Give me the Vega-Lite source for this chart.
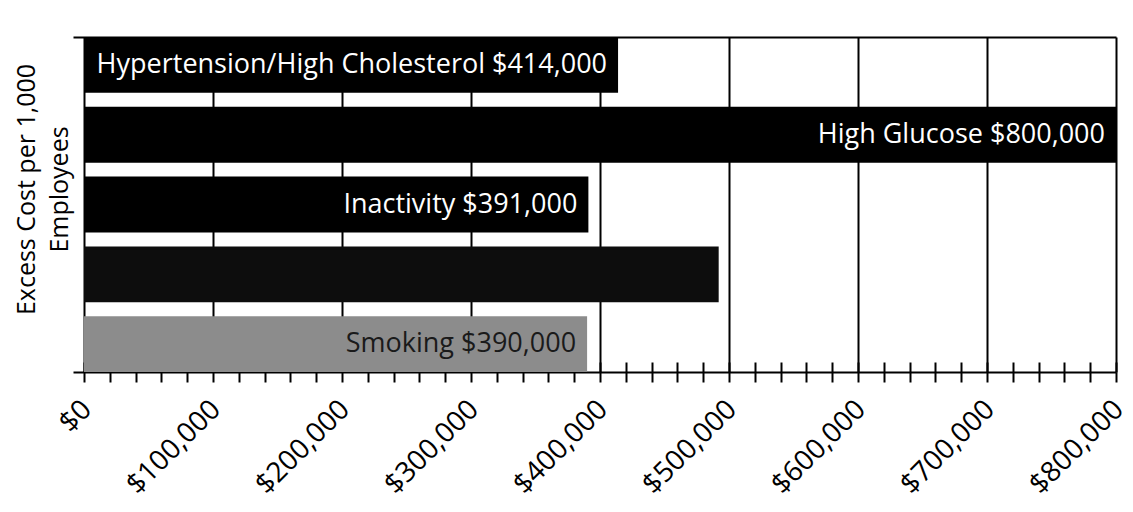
{
  "$schema": "https://vega.github.io/schema/vega-lite/v6.json",
  "width": 1043,
  "height": 335,
  "autosize": {"type": "none"},
  "padding": {"left": 73, "top": 37, "right": 17, "bottom": 140},
  "background": "white",
  "config": {"view": {"stroke": null}, "font": "Open Sans"},
  "data": {
    "values": [
      {"risk": "Hypertension/High Cholesterol", "cost": 414000, "label": "Hypertension/High Cholesterol $414,000"},
      {"risk": "High Glucose", "cost": 800000, "label": "High Glucose $800,000"},
      {"risk": "Inactivity", "cost": 391000, "label": "Inactivity $391,000"},
      {"risk": "Obesity", "cost": 492000, "label": ""},
      {"risk": "Smoking", "cost": 390000, "label": "Smoking $390,000"}
    ]
  },
  "encoding": {
    "y": {
      "field": "risk",
      "type": "nominal",
      "sort": null,
      "scale": {
        "domain": ["Hypertension/High Cholesterol", "High Glucose", "Inactivity", "Obesity", "Smoking"],
        "paddingInner": 0.2,
        "paddingOuter": 0
      },
      "axis": {
        "title": ["Excess Cost per 1,000", "Employees"],
        "labels": false,
        "ticks": false,
        "domain": false,
        "grid": true,
        "values": ["Hypertension/High Cholesterol"],
        "bandPosition": 0,
        "gridColor": "black",
        "gridWidth": 2,
        "gridOpacity": 1,
        "titleFont": "Open Sans",
        "titleFontSize": 25,
        "titleFontWeight": "normal",
        "titleColor": "black",
        "titleAngle": 270,
        "titleAlign": "center",
        "titleBaseline": "alphabetic",
        "titleLineHeight": 33,
        "titleX": -39,
        "titleY": 152
      }
    }
  },
  "layer": [
    {
      "mark": {"type": "bar"},
      "encoding": {
        "x": {
          "field": "cost",
          "type": "quantitative",
          "scale": {"domain": [-8527, 800000], "nice": false, "zero": false},
          "axis": {
            "orient": "bottom",
            "title": null,
            "values": [0,20000,40000,60000,80000,100000,120000,140000,160000,180000,200000,220000,240000,260000,280000,300000,320000,340000,360000,380000,400000,420000,440000,460000,480000,500000,520000,540000,560000,580000,600000,620000,640000,660000,680000,700000,720000,740000,760000,780000,800000],
            "format": "$,.0f",
            "labelExpr": "datum.value % 100000 === 0 ? datum.label : ''",
            "labelAngle": -45,
            "labelAlign": "right",
            "labelBaseline": "top",
            "labelPadding": 13,
            "labelOffset": -7,
            "labelFont": "Open Sans",
            "labelFontSize": 28,
            "labelColor": "black",
            "labelOverlap": false,
            "labelFlush": false,
            "labelBound": false,
            "tickSize": 10,
            "tickColor": "black",
            "tickWidth": 2,
            "domainColor": "black",
            "domainWidth": 2,
            "grid": true,
            "gridColor": "black",
            "gridWidth": 2,
            "gridOpacity": {"condition": {"test": "datum.value % 100000 === 0", "value": 1}, "value": 0}
          }
        },
        "x2": {"datum": 0},
        "color": {
          "field": "risk",
          "type": "nominal",
          "scale": {
            "domain": ["Hypertension/High Cholesterol", "High Glucose", "Inactivity", "Obesity", "Smoking"],
            "range": ["#000000", "#000000", "#000000", "#0d0d0d", "#8c8c8c"]
          },
          "legend": null
        }
      }
    },
    {
      "mark": {"type": "text", "align": "right", "baseline": "middle", "dx": -11, "fontSize": 27, "font": "Open Sans"},
      "encoding": {
        "x": {
          "field": "cost",
          "type": "quantitative",
          "axis": {
            "orient": "top",
            "offset": -335,
            "title": null,
            "labels": false,
            "domain": false,
            "grid": false,
            "values": [0,20000,40000,60000,80000,100000,120000,140000,160000,180000,200000,220000,240000,260000,280000,300000,320000,340000,360000,380000,400000,420000,440000,460000,480000,500000,520000,540000,560000,580000,600000,620000,640000,660000,680000,700000,720000,740000,760000,780000,800000],
            "tickSize": 10,
            "tickColor": "black",
            "tickWidth": 2
          }
        },
        "text": {"field": "label"},
        "color": {
          "field": "risk",
          "type": "nominal",
          "scale": {
            "domain": ["Hypertension/High Cholesterol", "High Glucose", "Inactivity", "Obesity", "Smoking"],
            "range": ["#ffffff", "#ffffff", "#ffffff", "#0d0d0d", "#1a1a1a"]
          },
          "legend": null
        }
      }
    }
  ],
  "resolve": {"axis": {"x": "independent"}, "scale": {"color": "independent"}}
}
